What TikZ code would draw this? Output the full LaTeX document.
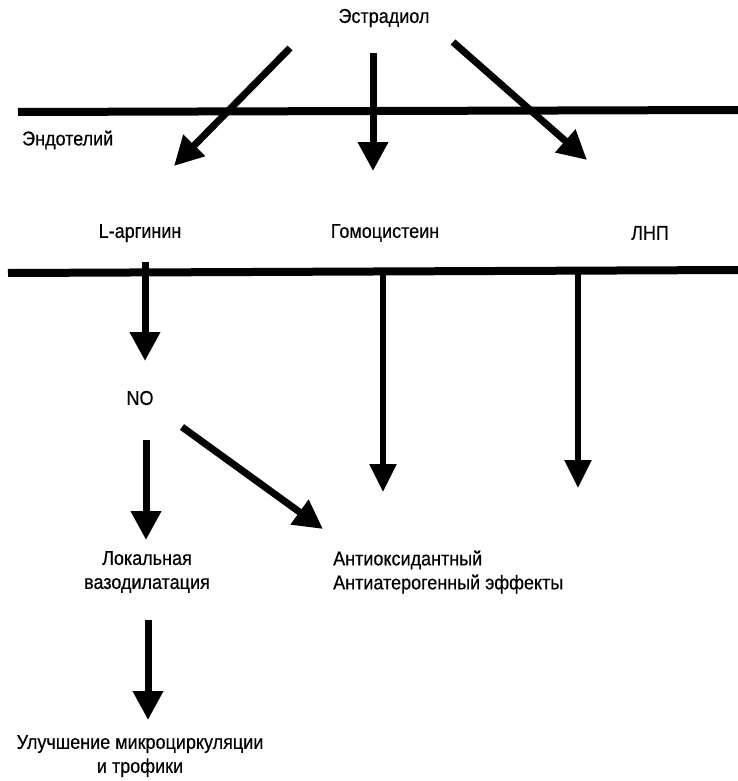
\documentclass[tikz,border=0pt]{standalone}
\usepackage{fontspec}
\setmainfont[FakeStretch=0.9,FakeBold=0.4]{Liberation Sans}
\usetikzlibrary{arrows.meta}
\begin{document}
\begin{tikzpicture}[x=1pt,y=-1pt,
  lbl/.style={font=\fontsize{20}{24}\selectfont, inner sep=0pt, align=center},
  membrane/.style={line width=8pt},
  bigarrow/.style={line width=7pt, -{Triangle[length=29pt,width=29pt]}},
  thinarrow/.style={line width=5.5pt, -{Triangle[length=28pt,width=26pt]}}]
  \fill[white] (0,0) rectangle (738,781);
  \useasboundingbox (0,0) rectangle (738,781);

  % labels
  \node[lbl] (estr) at (384,18) {Эстрадиол};
  \node[lbl, anchor=west] (endo) at (22,140) {Эндотелий};
  \node[lbl] (larg) at (140,233) {L-аргинин};
  \node[lbl] (homo) at (385,233) {Гомоцистеин};
  \node[lbl] (ldl) at (650,233) {ЛНП};
  \node[lbl] (no) at (140,398) {NO};
  \node[lbl, align=center] (vaso) at (147,572) {Локальная\\вазодилатация};
  \node[lbl, align=left, anchor=west] (anti) at (333,572) {Антиоксидантный\\Антиатерогенный эффекты};
  \node[lbl, align=center] (micro) at (140,756) {Улучшение микроциркуляции\\и трофики};

  % membranes
  \coordinate (m1a) at (18,112);
  \coordinate (m1b) at (738,110);
  \coordinate (m2a) at (8,273);
  \coordinate (m2b) at (738,270);
  \draw[membrane] (m1a) -- (m1b);
  \draw[membrane] (m2a) -- (m2b);

  % arrow end points
  \coordinate (e1s) at (290,48);   \coordinate (e1t) at (174,166);
  \coordinate (e2s) at (373,53);   \coordinate (e2t) at (373,171);
  \coordinate (e3s) at (453,42);   \coordinate (e3t) at (587,160);
  \coordinate (ls) at (145,262);   \coordinate (lt) at (145,361);
  \coordinate (hs) at (383,274);   \coordinate (ht) at (383,492);
  \coordinate (ds) at (578,274);   \coordinate (dt) at (578,488);
  \coordinate (n1s) at (146,440);  \coordinate (n1t) at (146,540);
  \coordinate (n2s) at (182,427);  \coordinate (n2t) at (323,529);
  \coordinate (vs) at (148,620);   \coordinate (vt) at (148,720);

  % arrows
  \draw[bigarrow] (e1s) -- (e1t);
  \draw[bigarrow] (e2s) -- (e2t);
  \draw[bigarrow] (e3s) -- (e3t);
  \draw[bigarrow] (ls) -- (lt);
  \draw[thinarrow] (hs) -- (ht);
  \draw[thinarrow] (ds) -- (dt);
  \draw[bigarrow] (n1s) -- (n1t);
  \draw[bigarrow] (n2s) -- (n2t);
  \draw[bigarrow] (vs) -- (vt);
\end{tikzpicture}
\end{document}
